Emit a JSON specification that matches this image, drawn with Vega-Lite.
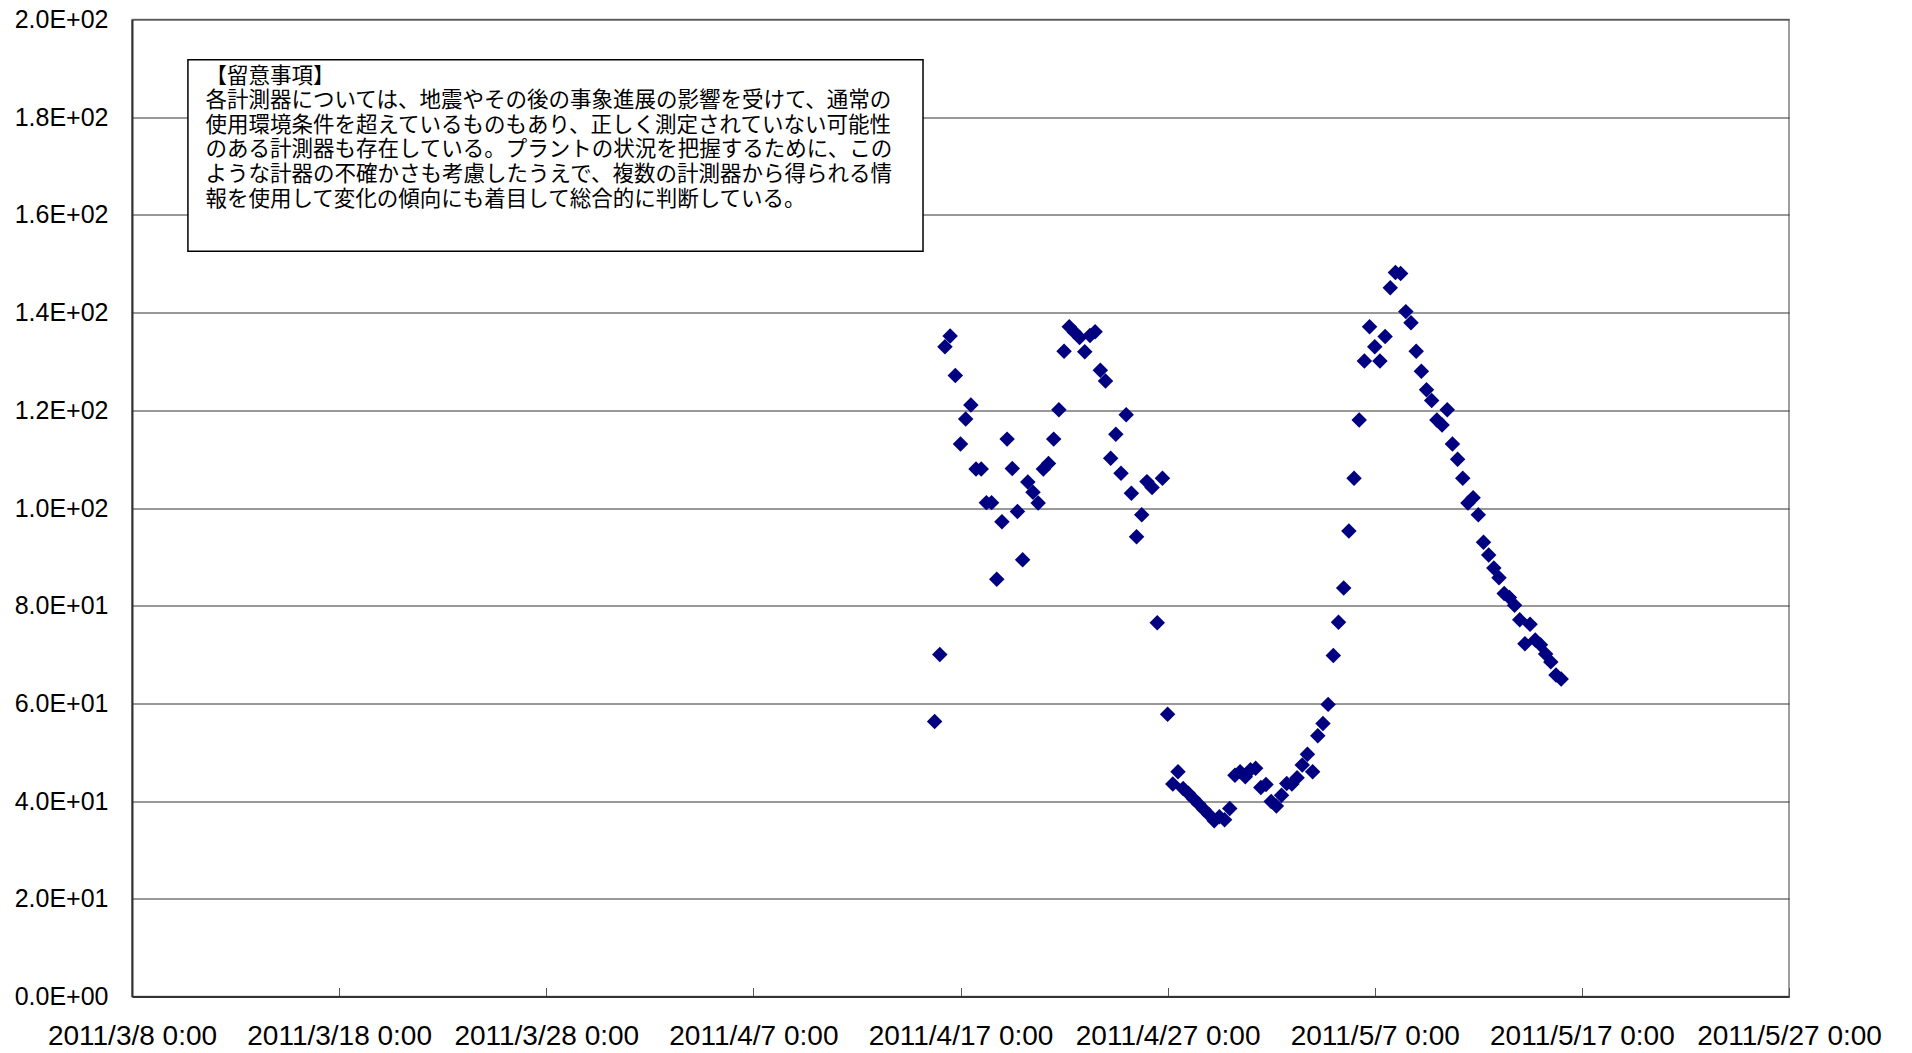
{
  "$schema": "https://vega.github.io/schema/vega-lite/v6.json",
  "width": 1657,
  "height": 977,
  "autosize": {"type": "none"},
  "padding": {"left": 132, "top": 19.5, "right": 123, "bottom": 56.5},
  "background": "white",
  "config": {
    "view": {"stroke": "#808080", "strokeWidth": 1.5},
    "axis": {
      "labelFont": "Liberation Sans",
      "labelColor": "#000000",
      "labelLimit": 0,
      "domainColor": "#333333",
      "domainWidth": 2,
      "gridColor": "#333333",
      "gridWidth": 1,
      "tickColor": "#555555",
      "title": null
    }
  },
  "layer": [
    {
      "data": {"values": [{"note": "box"}]},
      "mark": {"type": "rect", "fill": "white", "stroke": "#000000", "strokeWidth": 1.5},
      "encoding": {
        "x": {"datum": {"year": 2011, "month": 3, "date": 10, "hours": 16, "minutes": 48}, "type": "temporal"},
        "x2": {"datum": {"year": 2011, "month": 4, "date": 15, "hours": 4, "minutes": 34}},
        "y": {"datum": 191.76, "type": "quantitative"},
        "y2": {"datum": 152.57}
      }
    },
    {
      "data": {"values": [{"note": "text"}]},
      "mark": {
        "type": "text",
        "align": "left",
        "baseline": "middle",
        "font": "Noto Sans CJK JP",
        "fontSize": 21.5,
        "lineHeight": 24.6,
        "color": "#000000",
        "text": [
          "【留意事項】",
          "各計測器については、地震やその後の事象進展の影響を受けて、通常の",
          "使用環境条件を超えているものもあり、正しく測定されていない可能性",
          "のある計測器も存在している。プラントの状況を把握するために、この",
          "ような計器の不確かさも考慮したうえで、複数の計測器から得られる情",
          "報を使用して変化の傾向にも着目して総合的に判断している。"
        ]
      },
      "encoding": {
        "x": {"datum": {"year": 2011, "month": 3, "date": 11, "hours": 13, "minutes": 10}, "type": "temporal"},
        "y": {"datum": 188.3, "type": "quantitative"}
      }
    },
    {
      "data": {
        "values": [
          {"t": "2011-04-15T18:00:00", "v": 56.3},
          {"t": "2011-04-16T00:00:00", "v": 70.0},
          {"t": "2011-04-16T06:00:00", "v": 133.0},
          {"t": "2011-04-16T12:00:00", "v": 135.2},
          {"t": "2011-04-16T18:00:00", "v": 127.1},
          {"t": "2011-04-17T00:00:00", "v": 113.1},
          {"t": "2011-04-17T06:00:00", "v": 118.2},
          {"t": "2011-04-17T12:00:00", "v": 121.1},
          {"t": "2011-04-17T18:00:00", "v": 108.0},
          {"t": "2011-04-18T00:00:00", "v": 108.0},
          {"t": "2011-04-18T06:00:00", "v": 101.1},
          {"t": "2011-04-18T12:00:00", "v": 101.1},
          {"t": "2011-04-18T18:00:00", "v": 85.4},
          {"t": "2011-04-19T00:00:00", "v": 97.2},
          {"t": "2011-04-19T06:00:00", "v": 114.1},
          {"t": "2011-04-19T12:00:00", "v": 108.1},
          {"t": "2011-04-19T18:00:00", "v": 99.3},
          {"t": "2011-04-20T00:00:00", "v": 89.4},
          {"t": "2011-04-20T06:00:00", "v": 105.3},
          {"t": "2011-04-20T12:00:00", "v": 103.2},
          {"t": "2011-04-20T18:00:00", "v": 101.0},
          {"t": "2011-04-21T00:00:00", "v": 108.0},
          {"t": "2011-04-21T06:00:00", "v": 109.1},
          {"t": "2011-04-21T12:00:00", "v": 114.1},
          {"t": "2011-04-21T18:00:00", "v": 120.1},
          {"t": "2011-04-22T00:00:00", "v": 132.1},
          {"t": "2011-04-22T06:00:00", "v": 137.1},
          {"t": "2011-04-22T12:00:00", "v": 136.0},
          {"t": "2011-04-22T18:00:00", "v": 134.9},
          {"t": "2011-04-23T00:00:00", "v": 132.0},
          {"t": "2011-04-23T06:00:00", "v": 135.3},
          {"t": "2011-04-23T12:00:00", "v": 136.1},
          {"t": "2011-04-23T18:00:00", "v": 128.2},
          {"t": "2011-04-24T00:00:00", "v": 126.0},
          {"t": "2011-04-24T06:00:00", "v": 110.2},
          {"t": "2011-04-24T12:00:00", "v": 115.1},
          {"t": "2011-04-24T18:00:00", "v": 107.1},
          {"t": "2011-04-25T00:00:00", "v": 119.1},
          {"t": "2011-04-25T06:00:00", "v": 103.0},
          {"t": "2011-04-25T12:00:00", "v": 94.1},
          {"t": "2011-04-25T18:00:00", "v": 98.6},
          {"t": "2011-04-26T00:00:00", "v": 105.4},
          {"t": "2011-04-26T06:00:00", "v": 104.2},
          {"t": "2011-04-26T12:00:00", "v": 76.5},
          {"t": "2011-04-26T18:00:00", "v": 106.1},
          {"t": "2011-04-27T00:00:00", "v": 57.8},
          {"t": "2011-04-27T06:00:00", "v": 43.5},
          {"t": "2011-04-27T12:00:00", "v": 46.0},
          {"t": "2011-04-27T18:00:00", "v": 42.6},
          {"t": "2011-04-28T00:00:00", "v": 41.6},
          {"t": "2011-04-28T06:00:00", "v": 40.5},
          {"t": "2011-04-28T12:00:00", "v": 39.4},
          {"t": "2011-04-28T18:00:00", "v": 38.3},
          {"t": "2011-04-29T00:00:00", "v": 37.2},
          {"t": "2011-04-29T06:00:00", "v": 36.0},
          {"t": "2011-04-29T12:00:00", "v": 36.8},
          {"t": "2011-04-29T18:00:00", "v": 36.2},
          {"t": "2011-04-30T00:00:00", "v": 38.5},
          {"t": "2011-04-30T06:00:00", "v": 45.3},
          {"t": "2011-04-30T12:00:00", "v": 46.0},
          {"t": "2011-04-30T18:00:00", "v": 45.0},
          {"t": "2011-05-01T00:00:00", "v": 46.4},
          {"t": "2011-05-01T06:00:00", "v": 46.7},
          {"t": "2011-05-01T12:00:00", "v": 42.8},
          {"t": "2011-05-01T18:00:00", "v": 43.4},
          {"t": "2011-05-02T00:00:00", "v": 39.9},
          {"t": "2011-05-02T06:00:00", "v": 39.0},
          {"t": "2011-05-02T12:00:00", "v": 41.2},
          {"t": "2011-05-02T18:00:00", "v": 43.6},
          {"t": "2011-05-03T00:00:00", "v": 43.5},
          {"t": "2011-05-03T06:00:00", "v": 44.8},
          {"t": "2011-05-03T12:00:00", "v": 47.4},
          {"t": "2011-05-03T18:00:00", "v": 49.6},
          {"t": "2011-05-04T00:00:00", "v": 46.0},
          {"t": "2011-05-04T06:00:00", "v": 53.4},
          {"t": "2011-05-04T12:00:00", "v": 55.9},
          {"t": "2011-05-04T18:00:00", "v": 59.8},
          {"t": "2011-05-05T00:00:00", "v": 69.8},
          {"t": "2011-05-05T06:00:00", "v": 76.6},
          {"t": "2011-05-05T12:00:00", "v": 83.6},
          {"t": "2011-05-05T18:00:00", "v": 95.3},
          {"t": "2011-05-06T00:00:00", "v": 106.1},
          {"t": "2011-05-06T06:00:00", "v": 118.0},
          {"t": "2011-05-06T12:00:00", "v": 130.1},
          {"t": "2011-05-06T18:00:00", "v": 137.1},
          {"t": "2011-05-07T00:00:00", "v": 133.0},
          {"t": "2011-05-07T06:00:00", "v": 130.1},
          {"t": "2011-05-07T12:00:00", "v": 135.1},
          {"t": "2011-05-07T18:00:00", "v": 145.1},
          {"t": "2011-05-08T00:00:00", "v": 148.2},
          {"t": "2011-05-08T06:00:00", "v": 148.0},
          {"t": "2011-05-08T12:00:00", "v": 140.2},
          {"t": "2011-05-08T18:00:00", "v": 137.9},
          {"t": "2011-05-09T00:00:00", "v": 132.1},
          {"t": "2011-05-09T06:00:00", "v": 128.0},
          {"t": "2011-05-09T12:00:00", "v": 124.2},
          {"t": "2011-05-09T18:00:00", "v": 122.0},
          {"t": "2011-05-10T00:00:00", "v": 118.0},
          {"t": "2011-05-10T06:00:00", "v": 117.0},
          {"t": "2011-05-10T12:00:00", "v": 120.1},
          {"t": "2011-05-10T18:00:00", "v": 113.1},
          {"t": "2011-05-11T00:00:00", "v": 110.0},
          {"t": "2011-05-11T06:00:00", "v": 106.1},
          {"t": "2011-05-11T12:00:00", "v": 101.0},
          {"t": "2011-05-11T18:00:00", "v": 102.1},
          {"t": "2011-05-12T00:00:00", "v": 98.6},
          {"t": "2011-05-12T06:00:00", "v": 93.0},
          {"t": "2011-05-12T12:00:00", "v": 90.4},
          {"t": "2011-05-12T18:00:00", "v": 87.7},
          {"t": "2011-05-13T00:00:00", "v": 85.7},
          {"t": "2011-05-13T06:00:00", "v": 82.5},
          {"t": "2011-05-13T12:00:00", "v": 81.7},
          {"t": "2011-05-13T18:00:00", "v": 80.1},
          {"t": "2011-05-14T00:00:00", "v": 77.1},
          {"t": "2011-05-14T06:00:00", "v": 72.2},
          {"t": "2011-05-14T12:00:00", "v": 76.2},
          {"t": "2011-05-14T18:00:00", "v": 73.0},
          {"t": "2011-05-15T00:00:00", "v": 72.0},
          {"t": "2011-05-15T06:00:00", "v": 70.1},
          {"t": "2011-05-15T12:00:00", "v": 68.5},
          {"t": "2011-05-15T18:00:00", "v": 65.8},
          {"t": "2011-05-16T00:00:00", "v": 65.0}
        ]
      },
      "mark": {"type": "point", "shape": "diamond", "filled": true, "size": 240, "color": "#000080", "opacity": 1},
      "encoding": {
        "x": {
          "field": "t",
          "type": "temporal",
          "scale": {
            "domain": [
              {"year": 2011, "month": 3, "date": 8},
              {"year": 2011, "month": 5, "date": 27}
            ],
            "nice": false
          },
          "axis": {
            "values": [
              {"year": 2011, "month": 3, "date": 8},
              {"year": 2011, "month": 3, "date": 18},
              {"year": 2011, "month": 3, "date": 28},
              {"year": 2011, "month": 4, "date": 7},
              {"year": 2011, "month": 4, "date": 17},
              {"year": 2011, "month": 4, "date": 27},
              {"year": 2011, "month": 5, "date": 7},
              {"year": 2011, "month": 5, "date": 17},
              {"year": 2011, "month": 5, "date": 27}
            ],
            "format": "%Y/%-m/%-d %-H:%M",
            "grid": false,
            "ticks": true,
            "tickSize": -9,
            "tickWidth": 1,
            "labelPadding": 35,
            "labelFontSize": 28,
            "labelLimit": 0,
            "labelFlush": false,
            "labelOverlap": false,
            "title": null
          }
        },
        "y": {
          "field": "v",
          "type": "quantitative",
          "scale": {"domain": [0, 200], "nice": false, "zero": true},
          "axis": {
            "values": [0, 20, 40, 60, 80, 100, 120, 140, 160, 180, 200],
            "labelExpr": "datum.value == 0 ? '0.0E+00' : (datum.value < 100 ? format(datum.value / 10, '.1f') + 'E+01' : format(datum.value / 100, '.1f') + 'E+02')",
            "grid": true,
            "ticks": false,
            "labelPadding": 24,
            "labelFontSize": 25,
            "labelLimit": 0,
            "labelFlush": false,
            "labelOverlap": false,
            "title": null
          }
        }
      }
    }
  ]
}
